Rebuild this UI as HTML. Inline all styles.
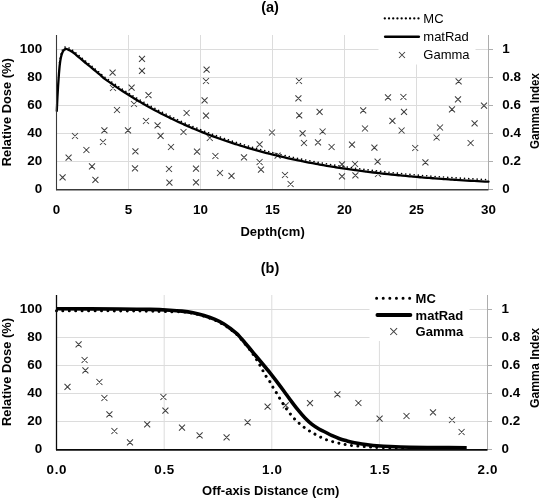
<!DOCTYPE html><html><head><meta charset="utf-8"><style>html,body{margin:0;padding:0;background:#fff;}svg{display:block;will-change:transform;}text{font-family:"Liberation Sans",sans-serif;fill:#000;}.b{font-weight:bold;}</style></head><body>
<svg width="540" height="500" viewBox="0 0 540 500">
<rect width="540" height="500" fill="#fff"/>
<path d="M57.0 161.5H488.0" stroke="#dcdcdc" stroke-width="1" fill="none"/>
<path d="M57.0 133.5H488.0" stroke="#dcdcdc" stroke-width="1" fill="none"/>
<path d="M57.0 105.5H488.0" stroke="#dcdcdc" stroke-width="1" fill="none"/>
<path d="M57.0 77.5H488.0" stroke="#dcdcdc" stroke-width="1" fill="none"/>
<path d="M57.0 49.5H488.0" stroke="#dcdcdc" stroke-width="1" fill="none"/>
<path d="M128.5 35.0V189.0" stroke="#dcdcdc" stroke-width="1" fill="none"/>
<path d="M200.5 35.0V189.0" stroke="#dcdcdc" stroke-width="1" fill="none"/>
<path d="M272.5 35.0V189.0" stroke="#dcdcdc" stroke-width="1" fill="none"/>
<path d="M344.5 35.0V189.0" stroke="#dcdcdc" stroke-width="1" fill="none"/>
<path d="M416.5 35.0V189.0" stroke="#dcdcdc" stroke-width="1" fill="none"/>
<rect x="378.5" y="5" width="97" height="59.5" fill="#fff"/>
<path d="M488.5 35.0V190.0" stroke="#adadad" stroke-width="1" fill="none"/>
<path d="M488.5 189.5H493.0" stroke="#adadad" stroke-width="1" fill="none"/>
<path d="M488.5 161.5H493.0" stroke="#adadad" stroke-width="1" fill="none"/>
<path d="M488.5 133.5H493.0" stroke="#adadad" stroke-width="1" fill="none"/>
<path d="M488.5 105.5H493.0" stroke="#adadad" stroke-width="1" fill="none"/>
<path d="M488.5 77.5H493.0" stroke="#adadad" stroke-width="1" fill="none"/>
<path d="M488.5 49.5H493.0" stroke="#adadad" stroke-width="1" fill="none"/>
<path d="M59.6 174.4L65.6 180.4M59.6 180.4L65.6 174.4M65.6 154.6L71.6 160.6M65.6 160.6L71.6 154.6M72.0 133.0L78.0 139.0M72.0 139.0L78.0 133.0M83.4 147.0L89.4 153.0M83.4 153.0L89.4 147.0M89.0 163.4L95.0 169.4M89.0 169.4L95.0 163.4M92.4 176.8L98.4 182.8M92.4 182.8L98.4 176.8M100.0 139.0L106.0 145.0M100.0 145.0L106.0 139.0M101.4 127.4L107.4 133.4M101.4 133.4L107.4 127.4M109.6 69.6L115.6 75.6M109.6 75.6L115.6 69.6M110.0 85.0L116.0 91.0M110.0 91.0L116.0 85.0M114.0 107.0L120.0 113.0M114.0 113.0L120.0 107.0M125.0 127.4L131.0 133.4M125.0 133.4L131.0 127.4M128.6 84.6L134.6 90.6M128.6 90.6L134.6 84.6M131.0 101.0L137.0 107.0M131.0 107.0L137.0 101.0M132.4 148.4L138.4 154.4M132.4 154.4L138.4 148.4M132.0 165.4L138.0 171.4M132.0 171.4L138.0 165.4M139.0 55.8L145.0 61.8M139.0 61.8L145.0 55.8M139.0 67.8L145.0 73.8M139.0 73.8L145.0 67.8M143.0 118.0L149.0 124.0M143.0 124.0L149.0 118.0M145.5 92.2L151.5 98.2M145.5 98.2L151.5 92.2M154.6 122.4L160.6 128.4M154.6 128.4L160.6 122.4M157.6 132.8L163.6 138.8M157.6 138.8L163.6 132.8M166.0 166.0L172.0 172.0M166.0 172.0L172.0 166.0M166.4 179.6L172.4 185.6M166.4 185.6L172.4 179.6M168.0 144.0L174.0 150.0M168.0 150.0L174.0 144.0M180.5 129.0L186.5 135.0M180.5 135.0L186.5 129.0M183.6 110.0L189.6 116.0M183.6 116.0L189.6 110.0M193.0 165.6L199.0 171.6M193.0 171.6L199.0 165.6M193.0 179.4L199.0 185.4M193.0 185.4L199.0 179.4M194.0 148.6L200.0 154.6M194.0 154.6L200.0 148.6M201.6 97.4L207.6 103.4M201.6 103.4L207.6 97.4M203.0 112.6L209.0 118.6M203.0 118.6L209.0 112.6M203.0 78.0L209.0 84.0M203.0 84.0L209.0 78.0M203.6 66.6L209.6 72.6M203.6 72.6L209.6 66.6M206.8 135.0L212.8 141.0M206.8 141.0L212.8 135.0M212.4 153.0L218.4 159.0M212.4 159.0L218.4 153.0M217.0 170.0L223.0 176.0M217.0 176.0L223.0 170.0M228.5 172.8L234.5 178.8M228.5 178.8L234.5 172.8M241.0 154.4L247.0 160.4M241.0 160.4L247.0 154.4M256.6 141.4L262.6 147.4M256.6 147.4L262.6 141.4M256.6 159.0L262.6 165.0M256.6 165.0L262.6 159.0M258.0 166.6L264.0 172.6M258.0 172.6L264.0 166.6M269.0 129.5L275.0 135.5M269.0 135.5L275.0 129.5M274.6 152.6L280.6 158.6M274.6 158.6L280.6 152.6M282.0 172.0L288.0 178.0M282.0 178.0L288.0 172.0M287.6 181.0L293.6 187.0M287.6 187.0L293.6 181.0M296.0 78.0L302.0 84.0M296.0 84.0L302.0 78.0M295.4 95.4L301.4 101.4M295.4 101.4L301.4 95.4M296.2 112.4L302.2 118.4M296.2 118.4L302.2 112.4M299.6 130.4L305.6 136.4M299.6 136.4L305.6 130.4M301.0 140.0L307.0 146.0M301.0 146.0L307.0 140.0M315.0 139.4L321.0 145.4M315.0 145.4L321.0 139.4M316.6 108.8L322.6 114.8M316.6 114.8L322.6 108.8M319.6 128.5L325.6 134.5M319.6 134.5L325.6 128.5M328.6 144.0L334.6 150.0M328.6 150.0L334.6 144.0M339.0 161.4L345.0 167.4M339.0 167.4L345.0 161.4M339.0 173.4L345.0 179.4M339.0 179.4L345.0 173.4M349.0 141.6L355.0 147.6M349.0 147.6L355.0 141.6M352.0 161.0L358.0 167.0M352.0 167.0L358.0 161.0M352.4 172.4L358.4 178.4M352.4 178.4L358.4 172.4M360.2 107.4L366.2 113.4M360.2 113.4L366.2 107.4M362.0 125.5L368.0 131.5M362.0 131.5L368.0 125.5M371.4 144.6L377.4 150.6M371.4 150.6L377.4 144.6M374.6 158.6L380.6 164.6M374.6 164.6L380.6 158.6M375.0 171.0L381.0 177.0M375.0 177.0L381.0 171.0M385.0 94.4L391.0 100.4M385.0 100.4L391.0 94.4M389.4 117.8L395.4 123.8M389.4 123.8L395.4 117.8M398.6 127.5L404.6 133.5M398.6 133.5L404.6 127.5M400.4 94.0L406.4 100.0M400.4 100.0L406.4 94.0M401.0 108.8L407.0 114.8M401.0 114.8L407.0 108.8M412.2 145.0L418.2 151.0M412.2 151.0L418.2 145.0M422.4 159.4L428.4 165.4M422.4 165.4L428.4 159.4M433.6 134.5L439.6 140.5M433.6 140.5L439.6 134.5M437.0 124.5L443.0 130.5M437.0 130.5L443.0 124.5M449.0 106.4L455.0 112.4M449.0 112.4L455.0 106.4M455.0 96.4L461.0 102.4M455.0 102.4L461.0 96.4M455.6 78.4L461.6 84.4M455.6 84.4L461.6 78.4M467.6 140.0L473.6 146.0M467.6 146.0L473.6 140.0M471.6 120.4L477.6 126.4M471.6 126.4L477.6 120.4M481.0 102.6L487.0 108.6M481.0 108.6L487.0 102.6" stroke="#404040" stroke-width="1.05" fill="none"/>
<path d="M59.50 62.50 C59.68 61.32 60.18 57.37 60.60 55.40 C61.02 53.43 61.48 51.93 62.00 50.70 C62.52 49.47 63.12 48.62 63.70 48.00 C64.28 47.38 64.90 47.12 65.50 47.00 C66.10 46.88 66.60 47.07 67.30 47.30 C68.00 47.53 68.88 47.95 69.70 48.40 C70.52 48.85 71.20 49.27 72.20 50.00 C73.20 50.73 74.45 51.78 75.70 52.80 C76.95 53.82 78.37 54.98 79.70 56.10 C81.03 57.22 82.37 58.38 83.70 59.50 C85.03 60.62 86.37 61.70 87.70 62.80 C89.03 63.90 90.37 65.00 91.70 66.10 C93.03 67.20 94.37 68.30 95.70 69.40 C97.03 70.50 98.36 71.55 99.70 72.70 C101.04 73.85 102.45 75.28 103.72 76.32 C104.99 77.35 106.12 78.05 107.31 78.90 C108.51 79.75 109.71 80.60 110.91 81.43 C112.10 82.27 113.30 83.09 114.50 83.91 C115.70 84.73 116.90 85.54 118.09 86.34 C119.29 87.14 120.49 87.93 121.69 88.71 C122.88 89.49 124.08 90.27 125.28 91.03 C126.48 91.80 127.68 92.56 128.87 93.31 C130.07 94.06 131.27 94.80 132.47 95.53 C133.66 96.27 134.86 96.99 136.06 97.71 C137.26 98.43 138.45 99.14 139.65 99.84 C140.85 100.54 142.05 101.24 143.25 101.93 C144.44 102.61 145.64 103.29 146.84 103.97 C148.04 104.64 149.23 105.30 150.43 105.96 C151.63 106.62 152.83 107.27 154.03 107.91 C155.22 108.56 156.42 109.19 157.62 109.82 C158.82 110.45 160.01 111.07 161.21 111.69 C162.41 112.30 163.61 112.91 164.81 113.51 C166.00 114.12 167.20 114.71 168.40 115.30 C169.60 115.89 170.79 116.47 171.99 117.05 C173.19 117.62 174.39 118.19 175.59 118.75 C176.78 119.32 177.98 119.87 179.18 120.42 C180.38 120.97 181.57 121.52 182.77 122.06 C183.97 122.59 185.17 123.13 186.37 123.65 C187.56 124.18 188.76 124.70 189.96 125.21 C191.16 125.73 192.35 126.23 193.55 126.74 C194.75 127.24 195.95 127.73 197.15 128.23 C198.34 128.72 199.54 129.20 200.74 129.68 C201.94 130.16 203.13 130.64 204.33 131.10 C205.53 131.57 206.73 132.04 207.92 132.49 C209.12 132.95 210.32 133.40 211.52 133.85 C212.72 134.30 213.91 134.74 215.11 135.18 C216.31 135.62 217.51 136.05 218.70 136.47 C219.90 136.90 221.10 137.32 222.30 137.74 C223.50 138.16 224.69 138.57 225.89 138.98 C227.09 139.38 228.29 139.79 229.48 140.18 C230.68 140.58 231.88 140.98 233.08 141.36 C234.28 141.75 235.47 142.14 236.67 142.52 C237.87 142.89 239.07 143.27 240.26 143.64 C241.46 144.01 242.66 144.38 243.86 144.74 C245.06 145.10 246.25 145.46 247.45 145.81 C248.65 146.16 249.85 146.51 251.04 146.85 C252.24 147.20 253.44 147.54 254.64 147.88 C255.84 148.21 257.03 148.54 258.23 148.87 C259.43 149.20 260.63 149.52 261.82 149.84 C263.02 150.16 264.22 150.48 265.42 150.79 C266.61 151.11 267.81 151.41 269.01 151.72 C270.21 152.02 271.41 152.32 272.60 152.62 C273.80 152.92 275.00 153.21 276.20 153.50 C277.39 153.79 278.59 154.08 279.79 154.36 C280.99 154.65 282.19 154.93 283.38 155.20 C284.58 155.48 285.78 155.75 286.98 156.02 C288.17 156.29 289.37 156.55 290.57 156.82 C291.77 157.08 292.97 157.34 294.16 157.59 C295.36 157.85 296.56 158.10 297.76 158.35 C298.95 158.60 300.15 158.85 301.35 159.09 C302.55 159.33 303.75 159.58 304.94 159.81 C306.14 160.05 307.34 160.28 308.54 160.51 C309.73 160.75 310.93 160.97 312.13 161.20 C313.33 161.43 314.53 161.65 315.72 161.87 C316.92 162.09 318.12 162.30 319.32 162.52 C320.51 162.73 321.71 162.94 322.91 163.15 C324.11 163.36 325.31 163.57 326.50 163.77 C327.70 163.97 328.90 164.17 330.10 164.37 C331.29 164.57 332.49 164.77 333.69 164.96 C334.89 165.15 336.08 165.34 337.28 165.53 C338.48 165.72 339.68 165.90 340.88 166.09 C342.07 166.27 343.27 166.45 344.47 166.63 C345.67 166.81 346.86 166.98 348.06 167.16 C349.26 167.33 350.46 167.50 351.66 167.67 C352.85 167.84 354.05 168.01 355.25 168.17 C356.45 168.34 357.64 168.50 358.84 168.66 C360.04 168.82 361.24 168.98 362.44 169.14 C363.63 169.29 364.83 169.45 366.03 169.60 C367.23 169.75 368.42 169.90 369.62 170.05 C370.82 170.20 372.02 170.35 373.22 170.49 C374.41 170.63 375.61 170.78 376.81 170.92 C378.01 171.06 379.20 171.20 380.40 171.33 C381.60 171.47 382.80 171.60 384.00 171.74 C385.19 171.87 386.39 172.00 387.59 172.13 C388.79 172.26 389.98 172.39 391.18 172.51 C392.38 172.64 393.58 172.77 394.77 172.89 C395.97 173.01 397.17 173.13 398.37 173.25 C399.57 173.37 400.76 173.49 401.96 173.60 C403.16 173.72 404.36 173.84 405.55 173.95 C406.75 174.06 407.95 174.17 409.15 174.28 C410.35 174.39 411.54 174.50 412.74 174.61 C413.94 174.72 415.14 174.82 416.33 174.92 C417.53 175.03 418.73 175.13 419.93 175.23 C421.13 175.33 422.32 175.43 423.52 175.53 C424.72 175.63 425.92 175.73 427.11 175.82 C428.31 175.92 429.51 176.01 430.71 176.11 C431.91 176.20 433.10 176.29 434.30 176.38 C435.50 176.47 436.70 176.56 437.89 176.65 C439.09 176.74 440.29 176.83 441.49 176.91 C442.69 177.00 443.88 177.08 445.08 177.17 C446.28 177.25 447.48 177.33 448.67 177.41 C449.87 177.49 451.07 177.57 452.27 177.65 C453.47 177.73 454.66 177.81 455.86 177.88 C457.06 177.96 458.26 178.04 459.45 178.11 C460.65 178.19 461.85 178.26 463.05 178.33 C464.24 178.40 465.44 178.47 466.64 178.55 C467.84 178.62 469.04 178.68 470.23 178.75 C471.43 178.82 472.63 178.89 473.83 178.96 C475.02 179.02 476.22 179.09 477.42 179.15 C478.62 179.22 479.82 179.28 481.01 179.34 C482.21 179.41 483.41 179.47 484.61 179.53 C485.80 179.59 487.60 179.68 488.20 179.71" stroke="#000" stroke-width="1.6" fill="none" stroke-dasharray="0.01 4.2" stroke-linecap="round"/>
<path d="M56.80 111.00 C56.90 108.83 57.18 102.17 57.40 98.00 C57.62 93.83 57.85 89.92 58.10 86.00 C58.35 82.08 58.62 78.08 58.90 74.50 C59.18 70.92 59.47 67.35 59.80 64.50 C60.13 61.65 60.48 59.37 60.90 57.40 C61.32 55.43 61.78 53.93 62.30 52.70 C62.82 51.47 63.42 50.62 64.00 50.00 C64.58 49.38 65.20 49.12 65.80 49.00 C66.40 48.88 66.90 49.07 67.60 49.30 C68.30 49.53 69.18 49.95 70.00 50.40 C70.82 50.85 71.50 51.27 72.50 52.00 C73.50 52.73 74.75 53.78 76.00 54.80 C77.25 55.82 78.67 56.98 80.00 58.10 C81.33 59.22 82.67 60.38 84.00 61.50 C85.33 62.62 86.67 63.70 88.00 64.80 C89.33 65.90 90.67 67.00 92.00 68.10 C93.33 69.20 94.67 70.30 96.00 71.40 C97.33 72.50 98.66 73.55 100.00 74.70 C101.34 75.85 102.75 77.28 104.02 78.32 C105.29 79.35 106.42 80.05 107.61 80.90 C108.81 81.75 110.01 82.60 111.21 83.43 C112.40 84.27 113.60 85.09 114.80 85.91 C116.00 86.73 117.20 87.54 118.39 88.34 C119.59 89.14 120.79 89.93 121.99 90.71 C123.18 91.49 124.38 92.27 125.58 93.03 C126.78 93.80 127.98 94.56 129.17 95.31 C130.37 96.06 131.57 96.80 132.77 97.53 C133.96 98.27 135.16 98.99 136.36 99.71 C137.56 100.43 138.75 101.14 139.95 101.84 C141.15 102.54 142.35 103.24 143.55 103.93 C144.74 104.61 145.94 105.29 147.14 105.97 C148.34 106.64 149.53 107.30 150.73 107.96 C151.93 108.62 153.13 109.27 154.33 109.91 C155.52 110.56 156.72 111.19 157.92 111.82 C159.12 112.45 160.31 113.07 161.51 113.69 C162.71 114.30 163.91 114.91 165.11 115.51 C166.30 116.12 167.50 116.71 168.70 117.30 C169.90 117.89 171.09 118.47 172.29 119.05 C173.49 119.62 174.69 120.19 175.89 120.75 C177.08 121.32 178.28 121.87 179.48 122.42 C180.68 122.97 181.87 123.52 183.07 124.06 C184.27 124.59 185.47 125.13 186.67 125.65 C187.86 126.18 189.06 126.70 190.26 127.21 C191.46 127.73 192.65 128.23 193.85 128.74 C195.05 129.24 196.25 129.73 197.45 130.23 C198.64 130.72 199.84 131.20 201.04 131.68 C202.24 132.16 203.43 132.64 204.63 133.10 C205.83 133.57 207.03 134.04 208.22 134.49 C209.42 134.95 210.62 135.40 211.82 135.85 C213.02 136.30 214.21 136.74 215.41 137.18 C216.61 137.62 217.81 138.05 219.00 138.47 C220.20 138.90 221.40 139.32 222.60 139.74 C223.80 140.16 224.99 140.57 226.19 140.98 C227.39 141.38 228.59 141.79 229.78 142.18 C230.98 142.58 232.18 142.98 233.38 143.36 C234.58 143.75 235.77 144.14 236.97 144.52 C238.17 144.89 239.37 145.27 240.56 145.64 C241.76 146.01 242.96 146.38 244.16 146.74 C245.36 147.10 246.55 147.46 247.75 147.81 C248.95 148.16 250.15 148.51 251.34 148.85 C252.54 149.20 253.74 149.54 254.94 149.88 C256.14 150.21 257.33 150.54 258.53 150.87 C259.73 151.20 260.93 151.52 262.12 151.84 C263.32 152.16 264.52 152.48 265.72 152.79 C266.91 153.11 268.11 153.41 269.31 153.72 C270.51 154.02 271.71 154.32 272.90 154.62 C274.10 154.92 275.30 155.21 276.50 155.50 C277.69 155.79 278.89 156.08 280.09 156.36 C281.29 156.65 282.49 156.93 283.68 157.20 C284.88 157.48 286.08 157.75 287.28 158.02 C288.47 158.29 289.67 158.55 290.87 158.82 C292.07 159.08 293.27 159.34 294.46 159.59 C295.66 159.85 296.86 160.10 298.06 160.35 C299.25 160.60 300.45 160.85 301.65 161.09 C302.85 161.33 304.05 161.58 305.24 161.81 C306.44 162.05 307.64 162.28 308.84 162.51 C310.03 162.75 311.23 162.97 312.43 163.20 C313.63 163.43 314.83 163.65 316.02 163.87 C317.22 164.09 318.42 164.30 319.62 164.52 C320.81 164.73 322.01 164.94 323.21 165.15 C324.41 165.36 325.61 165.57 326.80 165.77 C328.00 165.97 329.20 166.17 330.40 166.37 C331.59 166.57 332.79 166.77 333.99 166.96 C335.19 167.15 336.38 167.34 337.58 167.53 C338.78 167.72 339.98 167.90 341.18 168.09 C342.37 168.27 343.57 168.45 344.77 168.63 C345.97 168.81 347.16 168.98 348.36 169.16 C349.56 169.33 350.76 169.50 351.96 169.67 C353.15 169.84 354.35 170.01 355.55 170.17 C356.75 170.34 357.94 170.50 359.14 170.66 C360.34 170.82 361.54 170.98 362.74 171.14 C363.93 171.29 365.13 171.45 366.33 171.60 C367.53 171.75 368.72 171.90 369.92 172.05 C371.12 172.20 372.32 172.35 373.52 172.49 C374.71 172.63 375.91 172.78 377.11 172.92 C378.31 173.06 379.50 173.20 380.70 173.33 C381.90 173.47 383.10 173.60 384.30 173.74 C385.49 173.87 386.69 174.00 387.89 174.13 C389.09 174.26 390.28 174.39 391.48 174.51 C392.68 174.64 393.88 174.77 395.07 174.89 C396.27 175.01 397.47 175.13 398.67 175.25 C399.87 175.37 401.06 175.49 402.26 175.60 C403.46 175.72 404.66 175.84 405.85 175.95 C407.05 176.06 408.25 176.17 409.45 176.28 C410.65 176.39 411.84 176.50 413.04 176.61 C414.24 176.72 415.44 176.82 416.63 176.92 C417.83 177.03 419.03 177.13 420.23 177.23 C421.43 177.33 422.62 177.43 423.82 177.53 C425.02 177.63 426.22 177.73 427.41 177.82 C428.61 177.92 429.81 178.01 431.01 178.11 C432.21 178.20 433.40 178.29 434.60 178.38 C435.80 178.47 437.00 178.56 438.19 178.65 C439.39 178.74 440.59 178.83 441.79 178.91 C442.99 179.00 444.18 179.08 445.38 179.17 C446.58 179.25 447.78 179.33 448.97 179.41 C450.17 179.49 451.37 179.57 452.57 179.65 C453.77 179.73 454.96 179.81 456.16 179.88 C457.36 179.96 458.56 180.04 459.75 180.11 C460.95 180.19 462.15 180.26 463.35 180.33 C464.54 180.40 465.74 180.47 466.94 180.55 C468.14 180.62 469.34 180.68 470.53 180.75 C471.73 180.82 472.93 180.89 474.13 180.96 C475.32 181.02 476.52 181.09 477.72 181.15 C478.92 181.22 480.12 181.28 481.31 181.34 C482.51 181.41 483.71 181.47 484.91 181.53 C486.10 181.59 487.90 181.68 488.50 181.71" stroke="#000" stroke-width="2.3" fill="none" stroke-linejoin="round" stroke-linecap="round"/>
<path d="M56.5 35.0V190.1" stroke="#3a3a3a" stroke-width="1.1" fill="none"/>
<path d="M56.0 189.75H488.5" stroke="#3a3a3a" stroke-width="1.5" fill="none"/>
<text class="b" x="42.2" y="193.3" font-size="13.4" text-anchor="end">0</text>
<text class="b" x="42.2" y="165.3" font-size="13.4" text-anchor="end">20</text>
<text class="b" x="42.2" y="137.3" font-size="13.4" text-anchor="end">40</text>
<text class="b" x="42.2" y="109.3" font-size="13.4" text-anchor="end">60</text>
<text class="b" x="42.2" y="81.3" font-size="13.4" text-anchor="end">80</text>
<text class="b" x="42.2" y="53.3" font-size="13.4" text-anchor="end">100</text>
<text class="b" x="502.3" y="193.4" font-size="13.4">0</text>
<text class="b" x="502.3" y="165.4" font-size="13.4">0.2</text>
<text class="b" x="502.3" y="137.4" font-size="13.4">0.4</text>
<text class="b" x="502.3" y="109.4" font-size="13.4">0.6</text>
<text class="b" x="502.3" y="81.4" font-size="13.4">0.8</text>
<text class="b" x="502.3" y="53.4" font-size="13.4">1</text>
<text class="b" x="56.5" y="213.6" font-size="13.4" text-anchor="middle" letter-spacing="0">0</text>
<text class="b" x="128.5" y="213.6" font-size="13.4" text-anchor="middle" letter-spacing="0">5</text>
<text class="b" x="200.5" y="213.6" font-size="13.4" text-anchor="middle" letter-spacing="0">10</text>
<text class="b" x="272.5" y="213.6" font-size="13.4" text-anchor="middle" letter-spacing="0">15</text>
<text class="b" x="344.5" y="213.6" font-size="13.4" text-anchor="middle" letter-spacing="0">20</text>
<text class="b" x="416.5" y="213.6" font-size="13.4" text-anchor="middle" letter-spacing="0">25</text>
<text class="b" x="488.5" y="213.6" font-size="13.4" text-anchor="middle" letter-spacing="0">30</text>
<text class="b" x="270" y="12.4" font-size="14.5" text-anchor="middle">(a)</text>
<text class="b" x="272.6" y="236.0" font-size="13" text-anchor="middle">Depth(cm)</text>
<text class="b" font-size="13" text-anchor="middle" textLength="108" lengthAdjust="spacingAndGlyphs" transform="translate(10.6 112.3) rotate(-90)">Relative Dose (%)</text>
<text class="b" font-size="12.3" text-anchor="middle" textLength="76" lengthAdjust="spacingAndGlyphs" transform="translate(539.0 111.0) rotate(-90)">Gamma Index</text>
<path d="M384.8 18.4H418.6" stroke="#000" stroke-width="2.3" stroke-dasharray="0.01 4.2" stroke-linecap="round"/>
<path d="M385.2 36.8H418.8" stroke="#000" stroke-width="2.6" stroke-linecap="round"/>
<path d="M399.0 52.0L405.0 58.0M399.0 58.0L405.0 52.0" stroke="#404040" stroke-width="1.05" fill="none"/>
<text x="423.3" y="22.6" font-size="13">MC</text>
<text x="423.3" y="41" font-size="13">matRad</text>
<text x="423.3" y="59.2" font-size="13">Gamma</text>
<path d="M57.0 421.5H487.0" stroke="#dcdcdc" stroke-width="1" fill="none"/>
<path d="M57.0 393.5H487.0" stroke="#dcdcdc" stroke-width="1" fill="none"/>
<path d="M57.0 365.5H487.0" stroke="#dcdcdc" stroke-width="1" fill="none"/>
<path d="M57.0 337.5H487.0" stroke="#dcdcdc" stroke-width="1" fill="none"/>
<path d="M57.0 309.5H487.0" stroke="#dcdcdc" stroke-width="1" fill="none"/>
<path d="M164.2 295.0V449.0" stroke="#dcdcdc" stroke-width="1" fill="none"/>
<path d="M271.8 295.0V449.0" stroke="#dcdcdc" stroke-width="1" fill="none"/>
<path d="M379.4 295.0V449.0" stroke="#dcdcdc" stroke-width="1" fill="none"/>
<rect x="369.5" y="287" width="100" height="54" fill="#fff"/>
<path d="M487.5 295.0V450.0" stroke="#adadad" stroke-width="1" fill="none"/>
<path d="M487.5 449.5H492.0" stroke="#adadad" stroke-width="1" fill="none"/>
<path d="M487.5 421.5H492.0" stroke="#adadad" stroke-width="1" fill="none"/>
<path d="M487.5 393.5H492.0" stroke="#adadad" stroke-width="1" fill="none"/>
<path d="M487.5 365.5H492.0" stroke="#adadad" stroke-width="1" fill="none"/>
<path d="M487.5 337.5H492.0" stroke="#adadad" stroke-width="1" fill="none"/>
<path d="M487.5 309.5H492.0" stroke="#adadad" stroke-width="1" fill="none"/>
<path d="M64.5 383.8L70.5 389.8M64.5 389.8L70.5 383.8M75.6 341.4L81.6 347.4M75.6 347.4L81.6 341.4M81.6 357.0L87.6 363.0M81.6 363.0L87.6 357.0M82.4 367.3L88.4 373.3M82.4 373.3L88.4 367.3M96.4 379.0L102.4 385.0M96.4 385.0L102.4 379.0M101.4 395.0L107.4 401.0M101.4 401.0L107.4 395.0M106.4 411.4L112.4 417.4M106.4 417.4L112.4 411.4M111.4 428.0L117.4 434.0M111.4 434.0L117.4 428.0M127.0 439.4L133.0 445.4M127.0 445.4L133.0 439.4M144.2 421.4L150.2 427.4M144.2 427.4L150.2 421.4M160.4 394.0L166.4 400.0M160.4 400.0L166.4 394.0M162.4 407.6L168.4 413.6M162.4 413.6L168.4 407.6M179.0 424.6L185.0 430.6M179.0 430.6L185.0 424.6M196.6 432.4L202.6 438.4M196.6 438.4L202.6 432.4M223.6 434.4L229.6 440.4M223.6 440.4L229.6 434.4M244.6 419.4L250.6 425.4M244.6 425.4L250.6 419.4M264.6 403.7L270.6 409.7M264.6 409.7L270.6 403.7M282.7 402.3L288.7 408.3M282.7 408.3L288.7 402.3M307.0 400.1L313.0 406.1M307.0 406.1L313.0 400.1M334.4 391.4L340.4 397.4M334.4 397.4L340.4 391.4M355.4 400.0L361.4 406.0M355.4 406.0L361.4 400.0M376.6 415.6L382.6 421.6M376.6 421.6L382.6 415.6M403.5 413.0L409.5 419.0M403.5 419.0L409.5 413.0M430.0 409.4L436.0 415.4M430.0 415.4L436.0 409.4M449.0 417.0L455.0 423.0M449.0 423.0L455.0 417.0M458.6 429.0L464.6 435.0M458.6 435.0L464.6 429.0" stroke="#404040" stroke-width="1.05" fill="none"/>
<path d="M56.50 310.80 C67.08 310.82 104.42 310.83 120.00 310.90 C135.58 310.97 142.50 311.08 150.00 311.20 C157.50 311.32 159.67 311.50 165.00 311.60 C170.33 311.70 177.33 311.52 182.00 311.80 C186.67 312.08 189.33 312.57 193.00 313.30 C196.67 314.03 200.33 315.05 204.00 316.20 C207.67 317.35 211.67 318.77 215.00 320.20 C218.33 321.63 221.33 323.20 224.00 324.80 C226.67 326.40 228.83 328.17 231.00 329.80 C233.17 331.43 234.50 332.07 237.00 334.60 C239.50 337.13 243.42 341.85 246.00 345.00 C248.58 348.15 250.75 351.08 252.50 353.50 C254.25 355.92 255.28 357.58 256.50 359.50 C257.72 361.42 258.75 363.17 259.80 365.00 C260.85 366.83 261.77 368.63 262.80 370.50 C263.83 372.37 264.80 374.30 266.00 376.20 C267.20 378.10 268.87 380.10 270.00 381.90 C271.13 383.70 271.75 385.22 272.80 387.00 C273.85 388.78 275.13 390.68 276.30 392.60 C277.47 394.52 278.63 396.57 279.80 398.50 C280.97 400.43 282.13 402.38 283.30 404.20 C284.47 406.02 285.52 407.63 286.80 409.40 C288.08 411.17 289.60 413.10 291.00 414.80 C292.40 416.50 293.73 418.08 295.20 419.60 C296.67 421.12 298.17 422.50 299.80 423.90 C301.43 425.30 303.18 426.68 305.00 428.00 C306.82 429.32 308.88 430.68 310.70 431.80 C312.52 432.92 314.00 433.68 315.90 434.70 C317.80 435.72 320.05 436.95 322.10 437.90 C324.15 438.85 326.15 439.70 328.20 440.40 C330.25 441.10 332.30 441.57 334.40 442.10 C336.50 442.63 338.70 443.13 340.80 443.60 C342.90 444.07 344.85 444.55 347.00 444.90 C349.15 445.25 351.47 445.47 353.70 445.70 C355.93 445.93 358.18 446.12 360.40 446.30 C362.62 446.48 364.78 446.63 367.00 446.80 C369.22 446.97 369.87 447.12 373.70 447.30 C377.53 447.48 382.28 447.73 390.00 447.90 C397.72 448.07 407.22 448.20 420.00 448.30 C432.78 448.40 458.92 448.47 466.70 448.50" stroke="#000" stroke-width="3" fill="none" stroke-dasharray="0.01 6.4" stroke-linecap="round"/>
<path d="M56.50 308.80 C67.08 308.83 104.42 308.90 120.00 309.00 C135.58 309.10 141.67 309.20 150.00 309.40 C158.33 309.60 164.67 309.92 170.00 310.20 C175.33 310.48 178.17 310.68 182.00 311.10 C185.83 311.52 189.33 311.97 193.00 312.70 C196.67 313.43 200.33 314.38 204.00 315.50 C207.67 316.62 211.67 317.98 215.00 319.40 C218.33 320.82 221.33 322.40 224.00 324.00 C226.67 325.60 228.83 327.37 231.00 329.00 C233.17 330.63 234.50 331.30 237.00 333.80 C239.50 336.30 242.83 340.30 246.00 344.00 C249.17 347.70 252.67 352.00 256.00 356.00 C259.33 360.00 263.67 365.20 266.00 368.00 C268.33 370.80 268.17 370.50 270.00 372.80 C271.83 375.10 274.67 378.73 277.00 381.80 C279.33 384.87 281.67 388.03 284.00 391.20 C286.33 394.37 288.67 397.68 291.00 400.80 C293.33 403.92 295.67 407.03 298.00 409.90 C300.33 412.77 302.67 415.58 305.00 418.00 C307.33 420.42 309.67 422.57 312.00 424.40 C314.33 426.23 316.83 427.73 319.00 429.00 C321.17 430.27 322.80 430.88 325.00 432.00 C327.20 433.12 329.77 434.58 332.20 435.70 C334.63 436.82 337.13 437.83 339.60 438.70 C342.07 439.57 344.53 440.23 347.00 440.90 C349.47 441.57 351.92 442.18 354.40 442.70 C356.88 443.22 359.42 443.62 361.90 444.00 C364.38 444.38 366.83 444.72 369.30 445.00 C371.77 445.28 373.25 445.45 376.70 445.70 C380.15 445.95 384.45 446.25 390.00 446.50 C395.55 446.75 401.67 447.02 410.00 447.20 C418.33 447.38 430.55 447.52 440.00 447.60 C449.45 447.68 462.25 447.68 466.70 447.70" stroke="#000" stroke-width="3.6" fill="none" stroke-linejoin="round" stroke-linecap="butt"/>
<path d="M56.5 295.0V450.1" stroke="#0a0a0a" stroke-width="1.3" fill="none"/>
<path d="M56.0 449.90H487.5" stroke="#0a0a0a" stroke-width="1.7" fill="none"/>
<text class="b" x="42.2" y="453.3" font-size="13.4" text-anchor="end">0</text>
<text class="b" x="42.2" y="425.3" font-size="13.4" text-anchor="end">20</text>
<text class="b" x="42.2" y="397.3" font-size="13.4" text-anchor="end">40</text>
<text class="b" x="42.2" y="369.3" font-size="13.4" text-anchor="end">60</text>
<text class="b" x="42.2" y="341.3" font-size="13.4" text-anchor="end">80</text>
<text class="b" x="42.2" y="313.3" font-size="13.4" text-anchor="end">100</text>
<text class="b" x="501.6" y="453.4" font-size="13.4">0</text>
<text class="b" x="501.6" y="425.4" font-size="13.4">0.2</text>
<text class="b" x="501.6" y="397.4" font-size="13.4">0.4</text>
<text class="b" x="501.6" y="369.4" font-size="13.4">0.6</text>
<text class="b" x="501.6" y="341.4" font-size="13.4">0.8</text>
<text class="b" x="501.6" y="313.4" font-size="13.4">1</text>
<text class="b" x="56.9" y="473.6" font-size="13.4" text-anchor="middle" letter-spacing="0.7">0.0</text>
<text class="b" x="164.6" y="473.6" font-size="13.4" text-anchor="middle" letter-spacing="0.7">0.5</text>
<text class="b" x="272.4" y="473.6" font-size="13.4" text-anchor="middle" letter-spacing="0.7">1.0</text>
<text class="b" x="380.1" y="473.6" font-size="13.4" text-anchor="middle" letter-spacing="0.7">1.5</text>
<text class="b" x="487.9" y="473.6" font-size="13.4" text-anchor="middle" letter-spacing="0.7">2.0</text>
<text class="b" x="270" y="272.6" font-size="14.5" text-anchor="middle">(b)</text>
<text class="b" x="270.7" y="494.7" font-size="13" text-anchor="middle">Off-axis Distance (cm)</text>
<text class="b" font-size="13" text-anchor="middle" textLength="108" lengthAdjust="spacingAndGlyphs" transform="translate(10.6 372.0) rotate(-90)">Relative Dose (%)</text>
<text class="b" font-size="12.3" text-anchor="middle" textLength="80" lengthAdjust="spacingAndGlyphs" transform="translate(539.0 368.0) rotate(-90)">Gamma Index</text>
<path d="M376.6 298.2H410.2" stroke="#000" stroke-width="3" stroke-dasharray="0.01 6.6" stroke-linecap="round"/>
<path d="M377.4 315H410.4" stroke="#000" stroke-width="3.8" stroke-linecap="round"/>
<path d="M390.3 328.2L397.1 335.0M390.3 335.0L397.1 328.2" stroke="#404040" stroke-width="1.05" fill="none"/>
<text class="b" x="415.6" y="302.8" font-size="13">MC</text>
<text class="b" x="415.6" y="319.6" font-size="13">matRad</text>
<text class="b" x="415.6" y="336.4" font-size="13">Gamma</text>
</svg></body></html>
